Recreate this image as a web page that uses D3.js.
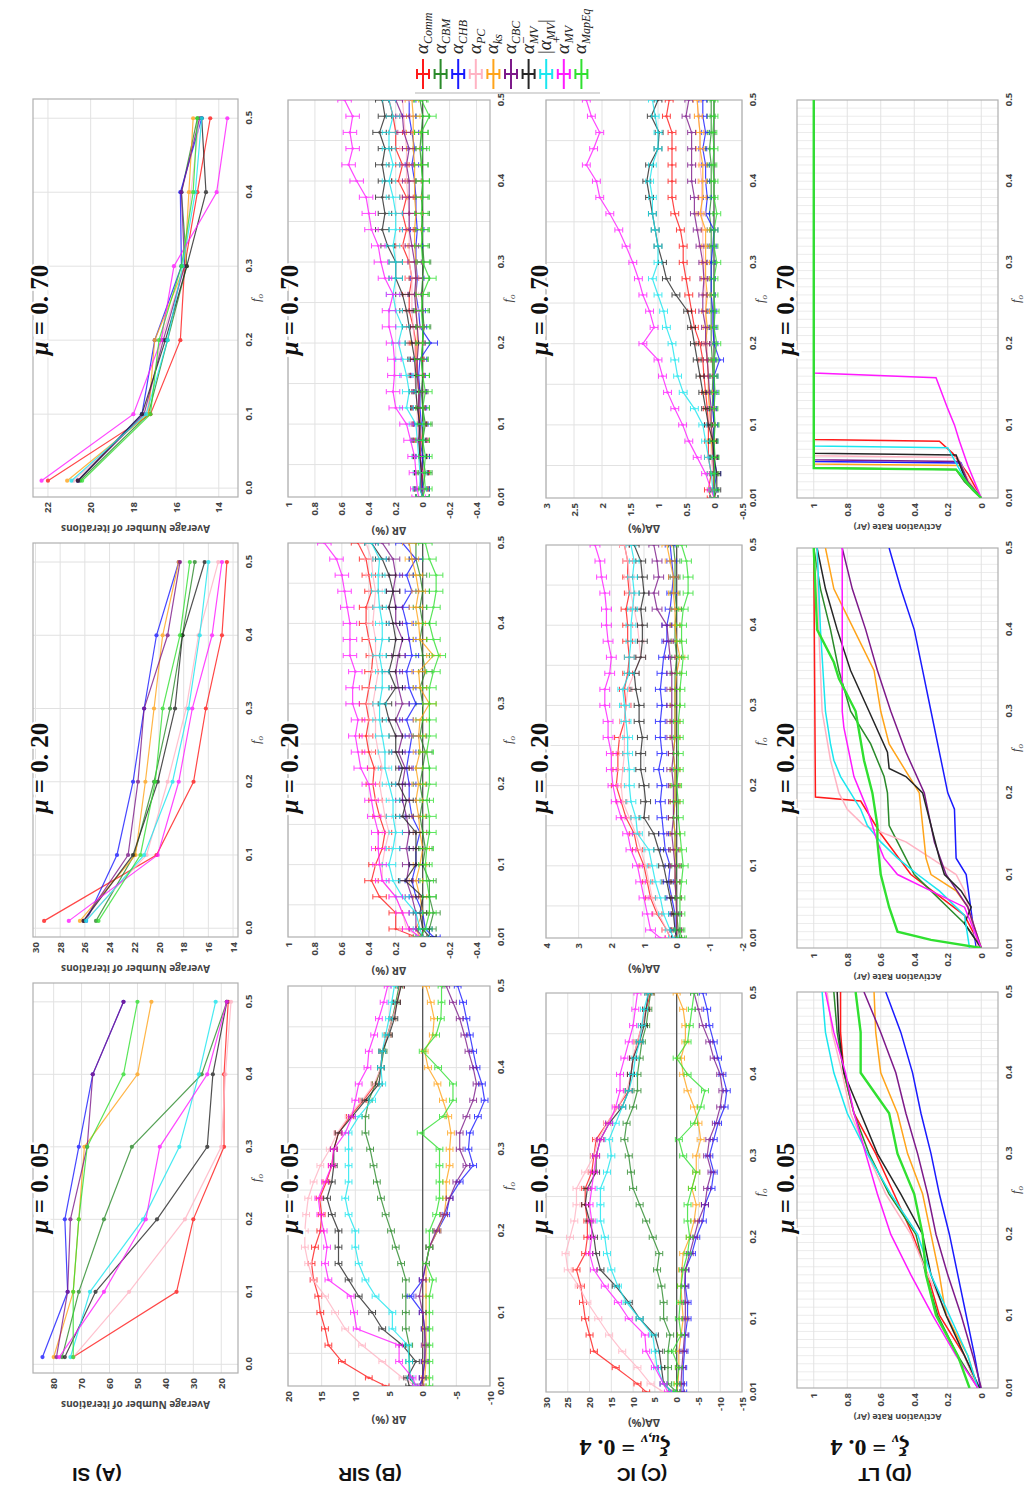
<!DOCTYPE html>
<html lang="en">
<head>
<meta charset="utf-8">
<title>Community-aware centrality: SI, SIR, IC and LT</title>
<script src="https://cdn.jsdelivr.net/npm/d3@7"></script>
<style>
  body { margin: 0; background: #fff; }
</style>
</head>
<body>
<script>

// ---------- series ----------
var seriesKeys = ["Comm", "CBM", "CHB", "PC", "ks", "CBC", "MVbar", "MVabs", "MVplus", "MapEq"];
var seriesColors = ["#ff1a1a", "#2a8a2a", "#1a1aff", "#ffb3c3", "#ffa41a", "#7d1a8a", "#262626", "#1ae6ef", "#ff1aff", "#30e030"];

var muLabels = ["0.05", "0.20", "0.70"];

// fraction of top nodes f_o
var fA = [0.01, 0.1, 0.2, 0.3, 0.4, 0.5];
var fB = [0.01, 0.02, 0.04, 0.06, 0.08, 0.10, 0.12, 0.14, 0.16, 0.18, 0.20, 0.22, 0.24,
          0.26, 0.28, 0.30, 0.32, 0.34, 0.36, 0.38, 0.40, 0.42, 0.44, 0.46, 0.48, 0.50];
var fD = [0.01, 0.05, 0.1, 0.15, 0.2, 0.25, 0.3, 0.35, 0.4, 0.45, 0.5];

// (A) SI : average number of iterations
var siMu005 = [
  [73, 36, 30, 19, 19, 17.5],
  [77, 71, 62, 52, 27, 18],
  [84, 75, 76, 71, 66, 55],
  [73, 53, 33, 20, 18.5, 16.5],
  [80, 73, 71, 69, 50, 45],
  [79, 75, 74, 68, 66, 55],
  [76, 65, 43, 25, 23, 18],
  [74, 67, 48, 35, 28, 22],
  [78, 62, 47, 42, 25, 18],
  [73, 73, 71, 68, 55, 50]
];
var siMu020 = [
  [29.3, 20.2, 17.2, 16.2, 14.9, 14.5],
  [25.1, 22.0, 20.4, 19.1, 18.1, 17.1],
  [25.9, 23.4, 22.1, 21.2, 20.2, 18.4],
  [26.0, 21.0, 19.3, 17.8, 16.8, 15.2],
  [26.4, 21.9, 21.1, 20.4, 19.7, 18.4],
  [26.1, 22.5, 21.7, 21.2, 19.3, 18.3],
  [26.1, 22.1, 20.1, 18.7, 18.1, 16.3],
  [25.9, 21.2, 18.9, 17.6, 16.7, 16.0],
  [27.3, 20.1, 18.4, 17.3, 15.7, 14.9],
  [24.9, 21.5, 20.3, 19.7, 18.3, 17.5]
];
var siMu070 = [
  [22.0, 17.2, 15.8, 15.6, 15.0, 14.4],
  [20.5, 17.3, 16.4, 15.5, 15.75, 15.0],
  [20.6, 17.6, 17.0, 15.75, 15.8, 14.8],
  [20.8, 17.4, 16.7, 15.6, 15.3, 14.9],
  [21.1, 17.3, 17.0, 15.6, 15.4, 15.2],
  [20.6, 17.5, 16.6, 15.6, 15.75, 14.9],
  [20.6, 17.6, 16.5, 15.5, 14.6, 14.8],
  [20.9, 17.4, 16.4, 15.7, 15.1, 14.8],
  [22.3, 18.0, 16.7, 16.1, 14.1, 13.6],
  [20.4, 17.2, 16.8, 15.75, 15.2, 15.0]
];

// (B) SIR : delta R (%)
var sirMu005 = [
  [5.5, 8, 12, 14, 14.5, 15.2, 15.5, 16.2, 16.5, 16, 15.2, 15, 15.3, 14.3, 13.5, 13.2, 12.5, 10.8, 8.8, 7, 6.2, 6, 5.2, 4.5, 3.8, 3.3],
  [1, 2, 2, 2, 2.5, 2.5, 2.5, 2.5, 3.2, 4, 4.7, 5.5, 6.2, 6.8, 7.3, 7.8, 8.5, 8.5, 8, 7, 6.2, 5.8, 5.2, 4.5, 4, 3.5],
  [0.5, 0, -0.3, -0.5, -0.3, 0, 1.8, 0, -0.5, -1, -2.2, -3.5, -4, -5.5, -7.5, -6.8, -7, -8.2, -9.2, -8.8, -8, -7.5, -7, -6.5, -6, -5.2],
  [1, 3, 6, 9, 11.5, 13, 14.5, 16.3, 17, 17.5, 17.5, 17.3, 17, 16.2, 15.2, 13.8, 12.7, 11, 9, 7.2, 6.2, 6, 5.2, 4.5, 3.8, 3.3],
  [0, -0.3, -0.5, -0.5, -0.5, -0.5, -0.5, -0.5, -0.5, -1, -2.2, -3.2, -3.5, -3.5, -4, -4, -4.2, -3.8, -3, -2.2, -0.8, -0.3, -1.5, -1.7, -1.2, -0.5],
  [0.3, 0, -0.3, -0.3, -0.3, 0, 0.5, 0, -0.5, -1, -2, -3.2, -4, -5, -6.5, -5.5, -5.5, -6.5, -7.5, -8, -7.5, -6.8, -6.2, -5.5, -4.5, -3.5],
  [2, 2.3, 1, 3, 6, 7.5, 9.5, 11, 12.5, 12.5, 12.5, 13.5, 14.2, 13.5, 13.2, 13.2, 12.5, 10.5, 8.5, 6.5, 6.2, 6, 5, 4.2, 3.8, 3.2],
  [1, 1.8, 2, 2.2, 4.5, 4.5, 7, 8.5, 9.5, 10, 10, 11, 11.5, 11, 11, 11, 11, 9.5, 7.5, 6, 6.2, 6, 5.5, 5, 4.6, 4.2],
  [1, 1.5, 3.5, 3.5, 9.8, 10.2, 10.7, 14, 14.5, 14.2, 14.7, 15.2, 15.5, 14.5, 13.5, 13.2, 11.5, 10.5, 10, 9.5, 8.2, 8, 7.2, 6.5, 5.8, 5.2],
  [-1, -1, -1, -1, -1, -1, -1, -1.5, -0.5, -1, -1, -2, -2.5, -2.5, -2.5, -2.5, 0.3, -3, -4.5, -4.5, -2.3, 0, -2, -2.7, -2.8, -2.8]
];
var sirMu020 = [
  [0.05, 0.2, 0.2, 0.32, 0.38, 0.35, 0.3, 0.28, 0.32, 0.35, 0.37, 0.36, 0.4, 0.42, 0.4, 0.42, 0.4, 0.38, 0.37, 0.4, 0.42, 0.42, 0.38, 0.4, 0.42, 0.48],
  [-0.05, -0.05, -0.08, -0.05, -0.05, 0, -0.02, 0, 0.02, 0, 0.02, 0, -0.02, 0.02, 0, 0, 0.02, -0.02, 0, 0.02, 0, 0.02, 0, 0.02, 0.05, 0.05],
  [-0.08, -0.02, 0, 0.05, 0.08, 0.05, 0.05, 0.02, 0.08, 0.1, 0.1, 0.12, 0.1, 0.08, 0.12, 0.05, 0.1, 0.12, 0.08, 0.1, 0.12, 0.15, 0.08, 0.12, 0.05, 0.15],
  [0.02, 0.12, 0.15, 0.2, 0.3, 0.3, 0.28, 0.25, 0.28, 0.3, 0.32, 0.3, 0.33, 0.35, 0.35, 0.37, 0.35, 0.33, 0.35, 0.35, 0.37, 0.36, 0.35, 0.37, 0.38, 0.42],
  [0.02, 0.05, 0, 0.02, 0.05, 0.02, 0, 0.02, 0.03, 0.05, 0.03, 0.05, 0.02, 0.03, 0.02, -0.05, 0.02, 0.03, -0.08, 0.02, 0.03, 0.05, 0.03, 0.05, 0.08, 0.1],
  [0, 0.05, 0.05, 0.08, 0.12, 0.1, 0.12, 0.1, 0.12, 0.15, 0.15, 0.13, 0.18, 0.15, 0.2, 0.15, 0.18, 0.2, 0.18, 0.15, 0.2, 0.2, 0.22, 0.2, 0.22, 0.3],
  [-0.05, 0, 0.02, 0, 0.13, 0.05, 0.05, 0.05, 0.15, 0.12, 0.18, 0.15, 0.2, 0.2, 0.25, 0.28, 0.2, 0.25, 0.22, 0.2, 0.22, 0.25, 0.22, 0.25, 0.3, 0.38],
  [0, 0.02, 0.05, 0.15, 0.22, 0.25, 0.22, 0.2, 0.22, 0.22, 0.25, 0.28, 0.28, 0.3, 0.32, 0.32, 0.3, 0.3, 0.32, 0.3, 0.3, 0.32, 0.33, 0.33, 0.32, 0.38],
  [0.02, 0.1, 0.15, 0.2, 0.3, 0.32, 0.33, 0.33, 0.36, 0.38, 0.4, 0.46, 0.48, 0.5, 0.48, 0.52, 0.52, 0.5, 0.54, 0.54, 0.54, 0.56, 0.58, 0.6, 0.64, 0.73],
  [0.02, -0.02, -0.05, -0.05, -0.03, -0.02, -0.03, -0.05, -0.05, -0.03, -0.05, -0.05, -0.03, -0.05, -0.05, -0.05, -0.05, -0.08, -0.12, -0.08, -0.05, -0.08, -0.1, -0.1, -0.05, -0.02]
];
var sirMu070 = [
  [0, 0.01, 0, 0.02, 0.01, 0.02, 0.03, 0.02, 0.04, 0.05, 0.05, 0.07, 0.1, 0.1, 0.08, 0.1, 0.15, 0.12, 0.15, 0.12, 0.18, 0.15, 0.2, 0.2, 0.22, 0.25],
  [0, 0, -0.02, 0, 0, -0.02, 0, 0.01, 0, 0.01, 0, -0.01, 0, 0.01, 0, -0.01, 0, 0.01, 0, 0.01, 0, 0.01, 0.02, 0.01, 0, 0.02],
  [0, 0, 0.01, 0, 0.02, 0.01, 0.02, 0.02, 0.03, 0.02, -0.06, 0.02, 0.03, 0.05, 0.04, 0.05, 0.05, 0.04, 0.05, 0.05, 0.06, 0.08, 0.06, 0.08, 0.1, 0.1],
  [0, 0.01, 0.02, 0.02, 0.03, 0.04, 0.04, 0.05, 0.06, 0.06, 0.06, 0.07, 0.08, 0.08, 0.08, 0.1, 0.1, 0.1, 0.1, 0.11, 0.12, 0.12, 0.12, 0.13, 0.14, 0.15],
  [0, 0.01, 0.01, 0.02, 0.02, 0.02, 0.03, 0.03, 0.04, 0.04, 0.04, 0.04, 0.05, 0.05, 0.05, 0.05, 0.06, 0.06, 0.05, 0.06, 0.06, 0.06, 0.07, 0.07, 0.07, 0.08],
  [0, 0.01, 0.01, 0.02, 0.02, 0.03, 0.03, 0.03, 0.04, 0.04, 0.03, 0.04, 0.05, 0.06, 0.05, 0.06, 0.08, 0.1, 0.1, 0.1, 0.1, 0.12, 0.1, 0.14, 0.15, 0.2],
  [0, 0.02, 0.01, 0.02, 0.03, 0.02, 0.04, 0.05, 0.05, 0.06, 0.08, 0.1, 0.12, 0.15, 0.2, 0.2, 0.26, 0.3, 0.28, 0.3, 0.28, 0.3, 0.28, 0.32, 0.28, 0.3],
  [0, 0.02, 0.02, 0.03, 0.04, 0.05, 0.12, 0.1, 0.12, 0.15, 0.18, 0.15, 0.2, 0.22, 0.2, 0.2, 0.22, 0.2, 0.2, 0.22, 0.25, 0.22, 0.25, 0.25, 0.22, 0.25],
  [0.03, 0.04, 0.05, 0.06, 0.09, 0.12, 0.2, 0.22, 0.21, 0.21, 0.22, 0.25, 0.25, 0.22, 0.28, 0.31, 0.33, 0.38, 0.4, 0.42, 0.49, 0.55, 0.52, 0.54, 0.52, 0.58],
  [0, -0.02, -0.01, -0.02, 0, -0.01, 0, -0.02, 0, 0.01, 0, 0, 0.01, 0, -0.05, 0, 0.01, 0, 0.01, 0, 0, 0.01, 0, 0.01, -0.05, 0.01]
];
var sirErr = [0.5, 0.05, 0.05];

// (C) IC : delta A (%)
var icMu005 = [
  [7, 9, 14, 19, 20, 21, 21.5, 22, 23, 21, 20.5, 20.5, 21, 21, 19.5, 19, 18.5, 16, 13.5, 11, 10.5, 10, 9, 8, 7, 6],
  [0, 2, 2, 2, 1.5, 3, 3, 3.5, 4.5, 4, 5.5, 7, 8.5, 10, 10.5, 11, 12, 11.5, 10, 9, 9, 8.5, 8, 7, 6.5, 6],
  [-1.5, -1.5, -1.5, -1.8, -2, -2.5, -2.5, -2, -2, -3.5, -4.5, -6, -6.5, -8, -8.5, -7.5, -8.5, -9.5, -11, -11.5, -10.5, -9.5, -8.5, -7.5, -7, -6],
  [3, 6, 9, 12.5, 15.5, 18, 20.5, 22.5, 25, 25.5, 24.5, 23.5, 23, 23, 21, 19, 18, 16, 13.5, 11.5, 10.5, 10, 9, 8, 7, 6.5],
  [0, -0.3, -0.5, -0.5, -1, -1.5, -1.2, -1, -1.2, -1.5, -3, -4, -4.5, -3.5, -4.5, -4.5, -5.5, -5, -4, -2.5, -1.5, -1, -2, -2, -1.5, 0],
  [-1, -1, -1.2, -1.5, -1.8, -2, -2, -1.8, -2, -3, -4, -5, -6.5, -7, -8, -7, -7.5, -9, -10, -10.5, -10, -8.5, -7.5, -6, -5, -4],
  [1, 3, 3.5, 4, 5, 8.5, 11, 14, 17.5, 18.5, 19, 20, 21, 20.5, 18.5, 18.5, 17.5, 15.5, 12.5, 11, 10.5, 10, 8.5, 7.5, 7, 6.5],
  [1, 3, 4.5, 5, 5.5, 8.5, 11.5, 13.5, 15, 16, 16.5, 17.5, 17.5, 17.5, 16, 15, 15.5, 14, 12.5, 11, 10, 9.5, 8.5, 8, 7.5, 6.5],
  [2, 3, 5, 7, 7.3, 11, 13.5, 16.5, 19, 20, 19.5, 19.5, 20, 19.5, 19, 18.5, 17.5, 15.5, 14, 13, 13, 12, 11, 10, 9.5, 9],
  [0, 0, -0.5, 1, -1, -0.5, -0.8, -1, -1.5, -2.5, -3, -2.5, -2.5, -3.5, -4.5, -1.5, -0.5, -4, -5.5, -6.5, -2.5, 0, -2.5, -3, -3.5, -4]
];
var icMu020 = [
  [0.2, 0.3, 0.6, 0.8, 0.9, 1.0, 1.2, 1.3, 1.55, 1.7, 1.85, 1.8, 1.8, 1.75, 1.6, 1.55, 1.6, 1.5, 1.45, 1.5, 1.5, 1.55, 1.45, 1.5, 1.5, 1.6],
  [-0.1, -0.05, 0, 0, 0.05, 0, 0.05, 0.05, 0.1, 0.05, 0.05, 0.05, 0.1, 0.05, 0.05, 0.05, 0.05, 0.05, 0, 0.05, 0.05, 0, 0.05, 0.05, 0.05, 0.1],
  [0, 0.05, 0.05, 0.15, 0.25, 0.2, 0.35, 0.4, 0.45, 0.5, 0.45, 0.55, 0.45, 0.5, 0.5, 0.45, 0.5, 0.45, 0.4, 0.3, 0.3, 0.2, 0.15, 0.1, 0.15, 0.2],
  [0.2, 0.3, 0.55, 0.75, 0.85, 0.95, 1.1, 1.25, 1.45, 1.65, 1.7, 1.65, 1.6, 1.6, 1.6, 1.55, 1.5, 1.3, 1.1, 1.15, 1.2, 1.3, 1.4, 1.45, 1.5, 1.6],
  [0, 0, 0, 0.02, 0.05, 0.05, 0.05, 0.05, 0.1, 0.05, 0.05, 0.05, 0.1, 0.05, 0.05, 0.05, 0.05, 0, -0.1, 0, 0.05, 0.05, 0.1, 0.1, 0.2, 0.3],
  [0, 0, 0, 0.02, 0.05, 0.05, 0.1, 0.15, 0.1, 0.1, 0.1, 0.15, 0.1, 0.15, 0.15, 0.15, 0.15, 0.15, 0.2, 0.25, 0.3, 0.6, 0.7, 0.55, 0.6, 0.7],
  [0, 0.05, 0.1, 0.2, 0.3, 0.4, 0.55, 0.7, 1.0, 0.95, 1.0, 1.1, 1.1, 1.05, 1.15, 1.15, 1.25, 1.3, 1.1, 1.05, 1.05, 1.1, 1.0, 1.05, 1.1, 1.3],
  [0.1, 0.2, 0.4, 0.5, 0.65, 0.75, 0.85, 1.2, 1.25, 1.4, 1.45, 1.45, 1.5, 1.5, 1.55, 1.6, 1.65, 1.45, 1.45, 1.4, 1.4, 1.35, 1.3, 1.35, 1.3, 1.4],
  [0.5, 0.8, 0.9, 1.0, 1.1, 1.2, 1.4, 1.5, 1.7, 1.85, 1.95, 2.0, 2.0, 2.1, 2.1, 2.2, 2.2, 2.05, 2.0, 2.1, 2.15, 2.15, 2.2, 2.3, 2.35, 2.5],
  [-0.15, -0.1, -0.1, -0.1, -0.15, -0.2, -0.15, -0.1, -0.05, -0.05, 0, -0.05, -0.05, -0.05, -0.05, -0.1, -0.1, -0.15, -0.2, -0.15, -0.15, -0.2, -0.35, -0.35, -0.3, -0.15]
];
var icMu070 = [
  [0.05, 0.1, 0.05, 0.1, 0.1, 0.1, 0.12, 0.15, 0.18, 0.2, 0.25, 0.35, 0.4, 0.45, 0.5, 0.55, 0.55, 0.6, 0.7, 0.75, 0.75, 0.75, 0.75, 0.75, 0.85, 0.8],
  [0, 0, -0.02, 0, 0.02, 0, 0.02, 0.03, 0.02, 0.03, 0.05, 0.05, 0.05, 0.05, 0.05, 0.05, 0.05, 0.05, 0.08, 0.05, 0.05, 0.05, 0.08, 0.05, 0.05, 0.05],
  [0, 0, -0.05, 0, 0, 0, 0.02, 0, 0, -0.1, 0, 0.02, 0.02, 0.05, 0.05, 0.05, 0.02, 0, 0.15, 0.12, 0.15, 0.15, 0.2, 0.15, 0.2, 0.2],
  [0, 0.02, 0.02, 0.05, 0.05, 0.08, 0.08, 0.1, 0.1, 0.12, 0.12, 0.15, 0.15, 0.15, 0.18, 0.18, 0.2, 0.2, 0.22, 0.22, 0.22, 0.25, 0.25, 0.25, 0.28, 0.3],
  [0, 0.02, 0, 0.02, 0.05, 0.05, 0.08, 0.1, 0.1, 0.12, 0.15, 0.12, 0.15, 0.12, 0.15, 0.15, 0.15, 0.15, 0.25, 0.2, 0.2, 0.2, 0.25, 0.25, 0.28, 0.3],
  [0, 0, 0, 0.02, 0.02, 0.05, 0.05, 0.08, 0.1, 0.12, 0.15, 0.15, 0.2, 0.2, 0.18, 0.2, 0.25, 0.3, 0.35, 0.35, 0.4, 0.4, 0.4, 0.4, 0.5, 0.45],
  [0, -0.05, -0.05, 0, 0.02, 0.1, 0.15, 0.2, 0.25, 0.3, 0.35, 0.4, 0.47, 0.68, 0.85, 0.92, 1.0, 1.05, 1.1, 1.15, 1.2, 1.15, 1.0, 0.98, 1.12, 1.0],
  [0, 0.02, 0.05, 0.1, 0.15, 0.2, 0.35, 0.55, 0.65, 0.7, 0.75, 0.85, 0.9, 1.0, 1.1, 1.0, 1.0, 1.05, 1.1, 1.1, 1.15, 1.1, 1.0, 1.0, 1.05, 1.1],
  [0, 0.05, 0.15, 0.3, 0.45, 0.56, 0.7, 0.83, 0.92, 1.0, 1.27, 1.07, 1.15, 1.27, 1.35, 1.45, 1.57, 1.7, 1.86, 2.04, 2.1, 2.28, 2.15, 2.04, 2.19, 2.28],
  [0, -0.02, 0, -0.02, 0, -0.02, 0, -0.02, 0, 0, -0.05, 0, -0.02, 0, 0, -0.05, 0, 0, -0.05, 0, 0, 0.02, 0, 0.02, 0, 0]
];
var icErr = [0.8, 0.15, 0.07];

// (D) LT : activation rate
var ltMu005 = [
  [0.02, 0.1, 0.25, 0.32, 0.41, 0.52, 0.63, 0.76, 0.82, 0.84, 0.84],
  [0.02, 0.14, 0.26, 0.33, 0.39, 0.55, 0.67, 0.76, 0.82, 0.86, 0.88],
  [0.005, 0.04, 0.09, 0.14, 0.19, 0.25, 0.3, 0.36, 0.41, 0.48, 0.57],
  [0.02, 0.1, 0.2, 0.32, 0.42, 0.57, 0.68, 0.78, 0.83, 0.89, 0.92],
  [0.02, 0.08, 0.21, 0.25, 0.3, 0.35, 0.44, 0.5, 0.6, 0.63, 0.64],
  [0.0, 0.05, 0.12, 0.2, 0.27, 0.32, 0.38, 0.45, 0.51, 0.6, 0.7],
  [0.01, 0.1, 0.21, 0.3, 0.35, 0.48, 0.62, 0.72, 0.82, 0.85, 0.86],
  [0.02, 0.08, 0.19, 0.3, 0.38, 0.54, 0.68, 0.8, 0.88, 0.93, 0.95],
  [0.02, 0.15, 0.29, 0.42, 0.54, 0.62, 0.69, 0.76, 0.81, 0.88, 0.93],
  [0.07, 0.14, 0.27, 0.33, 0.35, 0.4, 0.5, 0.55, 0.72, 0.72, 0.75]
];
var ltMu020 = [
  [[0.01, 0], [0.05, 0.1], [0.1, 0.42], [0.15, 0.6], [0.19, 0.72], [0.195, 0.99], [0.5, 1.0]],
  [[0.01, 0], [0.04, 0.1], [0.06, 0.2], [0.08, 0.3], [0.1, 0.4], [0.14, 0.5], [0.16, 0.55], [0.2, 0.56], [0.22, 0.58], [0.26, 0.66], [0.3, 0.78], [0.35, 0.85], [0.4, 0.9], [0.45, 0.96], [0.5, 1.0]],
  [[0.01, 0.03], [0.07, 0.07], [0.1, 0.09], [0.12, 0.15], [0.18, 0.16], [0.2, 0.2], [0.25, 0.25], [0.3, 0.3], [0.35, 0.35], [0.4, 0.4], [0.45, 0.48], [0.5, 0.55]],
  [[0.01, 0.02], [0.08, 0.1], [0.1, 0.15], [0.12, 0.3], [0.14, 0.45], [0.16, 0.7], [0.18, 0.8], [0.2, 0.85], [0.24, 0.9], [0.3, 0.95], [0.4, 0.97], [0.5, 0.98]],
  [[0.01, 0], [0.06, 0.08], [0.08, 0.15], [0.1, 0.3], [0.12, 0.33], [0.16, 0.35], [0.2, 0.37], [0.22, 0.43], [0.26, 0.55], [0.3, 0.6], [0.35, 0.64], [0.4, 0.76], [0.45, 0.88], [0.5, 0.93]],
  [[0.01, 0], [0.06, 0.08], [0.1, 0.21], [0.14, 0.28], [0.2, 0.34], [0.25, 0.45], [0.3, 0.54], [0.35, 0.62], [0.4, 0.69], [0.45, 0.77], [0.5, 0.83]],
  [[0.01, 0], [0.04, 0.1], [0.06, 0.06], [0.08, 0.12], [0.1, 0.22], [0.12, 0.25], [0.16, 0.3], [0.2, 0.35], [0.22, 0.45], [0.23, 0.55], [0.25, 0.56], [0.3, 0.67], [0.35, 0.78], [0.4, 0.86], [0.45, 0.93], [0.5, 0.98]],
  [[0.01, 0.07], [0.05, 0.1], [0.08, 0.25], [0.1, 0.38], [0.12, 0.5], [0.14, 0.6], [0.16, 0.68], [0.18, 0.72], [0.2, 0.78], [0.22, 0.84], [0.24, 0.88], [0.26, 0.9], [0.3, 0.93], [0.4, 0.96], [0.5, 0.98]],
  [[0.01, 0], [0.06, 0.1], [0.08, 0.3], [0.1, 0.5], [0.12, 0.58], [0.14, 0.62], [0.16, 0.65], [0.18, 0.68], [0.2, 0.72], [0.22, 0.76], [0.24, 0.78], [0.26, 0.8], [0.28, 0.82], [0.3, 0.83], [0.5, 0.83]],
  [[0.01, 0], [0.02, 0.3], [0.03, 0.5], [0.06, 0.55], [0.1, 0.6], [0.14, 0.62], [0.16, 0.62], [0.2, 0.65], [0.24, 0.7], [0.3, 0.75], [0.34, 0.85], [0.36, 0.88], [0.4, 0.98], [0.5, 1.0]]
];
var ltMu070 = [
  [[0.01, 0], [0.04, 0.08], [0.065, 0.17], [0.08, 0.25], [0.082, 1], [0.5, 1]],
  [[0.01, 0], [0.03, 0.1], [0.045, 0.15], [0.047, 1], [0.5, 1]],
  [[0.01, 0], [0.03, 0.08], [0.053, 0.12], [0.055, 1], [0.5, 1]],
  [[0.01, 0], [0.03, 0.07], [0.06, 0.14], [0.062, 1], [0.5, 1]],
  [[0.01, 0], [0.03, 0.08], [0.05, 0.12], [0.052, 1], [0.5, 1]],
  [[0.01, 0], [0.03, 0.08], [0.055, 0.13], [0.057, 1], [0.5, 1]],
  [[0.01, 0], [0.03, 0.09], [0.063, 0.15], [0.065, 1], [0.5, 1]],
  [[0.01, 0], [0.03, 0.09], [0.072, 0.2], [0.074, 1], [0.5, 1]],
  [[0.01, 0], [0.05, 0.08], [0.08, 0.13], [0.1, 0.16], [0.12, 0.2], [0.158, 0.27], [0.164, 1], [0.5, 1]],
  [[0.01, 0], [0.02, 0.05], [0.045, 0.15], [0.047, 1], [0.5, 1]]
];

// ---------- tick labels ----------
var xTicksA = [0, 0.1, 0.2, 0.3, 0.4, 0.5];
var xTicksB = [0.01, 0.1, 0.2, 0.3, 0.4, 0.5];
var yTicksSI = [[20, 30, 40, 50, 60, 70, 80], [14, 16, 18, 20, 22, 24, 26, 28, 30], [14, 16, 18, 20, 22]];
var yTicksSIR = [[-10, -5, 0, 5, 10, 15, 20], [-0.4, -0.2, 0, 0.2, 0.4, 0.6, 0.8, 1], [-0.4, -0.2, 0, 0.2, 0.4, 0.6, 0.8, 1]];
var yTicksIC = [[-15, -10, -5, 0, 5, 10, 15, 20, 25, 30], [-2, -1, 0, 1, 2, 3, 4], [-0.5, 0, 0.5, 1, 1.5, 2, 2.5, 3]];
var yTicksLT = [0, 0.2, 0.4, 0.6, 0.8, 1];

// ---------- canvas: the figure is drawn landscape, then turned a quarter left ----------
var svg = d3.select("body").append("svg")
    .attr("width", 1024).attr("height", 1506);
svg.append("rect").attr("width", 1024).attr("height", 1506).attr("fill", "#fff");
var root = svg.append("g").attr("transform", "translate(0,1506) rotate(-90)");

var tickFont = "'Open Sans', sans-serif";
var clipN = 0;
var numFmt = function(d) { return String(+d.toFixed(2)); };

function drawPanel(p) {
  var g = root.append("g");
  var x = d3.scaleLinear().domain(p.xDom).range([p.x0, p.x1]);
  var y = d3.scaleLinear().domain(p.yDom).range([p.y1, p.y0]);
  var cid = "clip" + (clipN++);
  g.append("clipPath").attr("id", cid).append("rect")
    .attr("x", p.x0).attr("y", p.y0).attr("width", p.x1 - p.x0).attr("height", p.y1 - p.y0);

  // grid
  g.append("g").selectAll("line").data(p.xGrid).join("line")
    .attr("x1", function(d) { return x(d); }).attr("x2", function(d) { return x(d); })
    .attr("y1", p.y0).attr("y2", p.y1)
    .attr("stroke", p.xGridColor || "#e2e2e2").attr("stroke-width", 1);
  g.append("g").selectAll("line").data(p.yTicks).join("line")
    .attr("x1", p.x0).attr("x2", p.x1)
    .attr("y1", function(d) { return y(d); }).attr("y2", function(d) { return y(d); })
    .attr("stroke", "#e2e2e2").attr("stroke-width", 1);

  if (p.zero) {
    g.append("line").attr("x1", p.x0).attr("x2", p.x1)
      .attr("y1", y(0)).attr("y2", y(0))
      .attr("stroke", "#555").attr("stroke-width", 1.3);
  }

  g.append("rect").attr("x", p.x0).attr("y", p.y0)
    .attr("width", p.x1 - p.x0).attr("height", p.y1 - p.y0)
    .attr("fill", "none").attr("stroke", "#b0b0b0").attr("stroke-width", 1.2);

  // axes
  var ax = g.append("g").attr("transform", "translate(0," + p.y1 + ")")
    .call(d3.axisBottom(x).tickValues(p.xTicks).tickFormat(p.xFmt).tickSize(0).tickPadding(7));
  var ay = g.append("g").attr("transform", "translate(" + p.x0 + ",0)")
    .call(d3.axisLeft(y).tickValues(p.yTicks).tickFormat(numFmt).tickSize(0).tickPadding(5));
  [ax, ay].forEach(function(a) {
    a.select(".domain").remove();
    a.attr("font-family", tickFont);
    a.selectAll("text").attr("font-size", 9.5).attr("font-weight", 700).attr("fill", "#444");
  });

  // axis titles
  g.append("text")
    .attr("transform", "translate(" + (p.x0 - p.yTitleOff) + "," + ((p.y0 + p.y1) / 2) + ") rotate(-90)")
    .attr("text-anchor", "middle").attr("font-family", tickFont)
    .attr("font-size", p.yTitleSize).attr("font-weight", 700).attr("fill", "#444")
    .text(p.yTitle);
  var fo = g.append("text")
    .attr("x", (p.x0 + p.x1) / 2).attr("y", p.y1 + 22)
    .attr("text-anchor", "middle").attr("font-family", "'Liberation Serif', serif")
    .attr("font-size", 13).attr("font-style", "italic").attr("fill", "#444");
  fo.append("tspan").text("f");
  fo.append("tspan").attr("font-size", 9).attr("dy", 3).text("o");

  // series
  var plot = g.append("g").attr("clip-path", "url(#" + cid + ")");
  p.series.forEach(function(vals, k) {
    var pts = p.pairs ? vals : vals.map(function(v, i) { return [p.xs[i], v]; });
    var col = seriesColors[k];
    var lastLine = p.kind === "line" && k === p.series.length - 1;
    var sg = plot.append("g").attr("opacity", p.kind === "line" ? 1 : 0.8);
    sg.append("path").datum(pts)
      .attr("d", d3.line().x(function(d) { return x(d[0]); }).y(function(d) { return y(d[1]); }))
      .attr("fill", "none").attr("stroke", col).attr("stroke-width", lastLine ? 2.4 : p.lineW);
    if (p.kind === "dots") {
      sg.selectAll("circle").data(pts).join("circle")
        .attr("cx", function(d) { return x(d[0]); }).attr("cy", function(d) { return y(d[1]); })
        .attr("r", 2.1).attr("fill", col);
    }
    if (p.kind === "err") {
      var e = p.err, c = 2.6;
      sg.selectAll("path.eb").data(pts).join("path").attr("class", "eb")
        .attr("d", function(d) {
          var px = x(d[0]), hi = y(d[1] + e), lo = y(d[1] - e);
          return "M" + (px - c) + "," + hi + "H" + (px + c) +
                 "M" + px + "," + hi + "V" + lo +
                 "M" + (px - c) + "," + lo + "H" + (px + c);
        })
        .attr("fill", "none").attr("stroke", col).attr("stroke-width", 1);
      sg.selectAll("circle").data(pts).join("circle")
        .attr("cx", function(d) { return x(d[0]); }).attr("cy", function(d) { return y(d[1]); })
        .attr("r", 1.3).attr("fill", col);
    }
  });

  // column title, sitting on the top edge of the frame
  var tt = root.append("text")
    .attr("x", p.titleX).attr("y", p.titleY)
    .attr("text-anchor", "middle").attr("font-family", "'Liberation Serif', serif")
    .attr("font-size", 25).attr("font-weight", 700).attr("fill", "#111")
    .attr("stroke", "#fff").attr("stroke-width", 5).attr("paint-order", "stroke");
  tt.append("tspan").attr("font-style", "italic").text("\u03bc");
  tt.append("tspan").text(" = " + p.mu.replace(".", ". "));
}

var colFrames = {
  A: [[133, 523], [569, 963], [1009, 1407]],
  B: [[120, 520], [569, 963], [1009, 1406]],
  C: [[114, 513], [568, 961], [1008, 1406]],
  D: [[118, 514], [558, 958], [1008, 1406]]
};
var rowFrames = { A: [33, 238], B: [288, 490], C: [546, 742], D: [797, 998] };
var titleRowY = { A: 48, B: 298, C: 548, D: 794 };
var titleColX = [318, 738, 1196];

var siData = [siMu005, siMu020, siMu070];
var siDom = [[14, 87.4], [13.6, 30.2], [13.1, 22.7]];
var sirData = [sirMu005, sirMu020, sirMu070];
var sirDom = [[-10, 20], [-0.5, 1], [-0.5, 1]];
var icData = [icMu005, icMu020, icMu070];
var icDom = [[-15, 30], [-2, 4], [-0.5, 3]];
var ltData = [ltMu005, ltMu020, ltMu070];

[0, 1, 2].forEach(function(c) {
  var base = function(row) {
    return { x0: colFrames[row][c][0], x1: colFrames[row][c][1],
             y0: rowFrames[row][0], y1: rowFrames[row][1],
             titleX: titleColX[c], titleY: titleRowY[row], mu: muLabels[c] };
  };
  drawPanel(Object.assign(base("A"), {
    xDom: [-0.012, 0.526], yDom: siDom[c], xs: fA, series: siData[c], kind: "dots", lineW: 1.2,
    xTicks: xTicksA, xFmt: d3.format(".1f"), xGrid: xTicksA, yTicks: yTicksSI[c],
    yTitle: "Average Number of iterations", yTitleSize: 10, yTitleOff: 28
  }));
  drawPanel(Object.assign(base("B"), {
    xDom: [0.01, 0.5], yDom: sirDom[c], xs: fB, series: sirData[c], kind: "err", err: sirErr[c], lineW: 1.2,
    xTicks: xTicksB, xFmt: numFmt, xGrid: d3.range(0.05, 0.5, 0.05), yTicks: yTicksSIR[c], zero: true,
    yTitle: "\u0394R (%)", yTitleSize: 11, yTitleOff: 30
  }));
  drawPanel(Object.assign(base("C"), {
    xDom: [0.01, 0.5], yDom: icDom[c], xs: fB, series: icData[c], kind: "err", err: icErr[c], lineW: 1.2,
    xTicks: xTicksB, xFmt: numFmt, xGrid: d3.range(0.05, 0.5, 0.05), yTicks: yTicksIC[c], zero: true,
    yTitle: "\u0394A(%)", yTitleSize: 11, yTitleOff: 27
  }));
  drawPanel(Object.assign(base("D"), {
    xDom: [0.01, 0.5], yDom: [-0.1, 1.1], xs: fD, series: ltData[c], pairs: c > 0, kind: "line", lineW: 1.5,
    xTicks: xTicksB, xFmt: numFmt, xGrid: d3.range(0.02, 0.5, 0.01), xGridColor: "#ececec", yTicks: yTicksLT,
    yTitle: "Activation Rate (Ar)", yTitleSize: 9, yTitleOff: 26
  }));
});

// ---------- row labels ----------
var rowLabels = [
  { t: "(A) SI", X: 38, Y: 97 },
  { t: "(B) SIR", X: 38, Y: 370 },
  { t: "(C) IC", X: 38, Y: 642 },
  { t: "(D) LT", X: 38, Y: 885 }
];
rowLabels.forEach(function(r) {
  root.append("text")
    .attr("transform", "translate(" + r.X + "," + r.Y + ") rotate(-90)")
    .attr("text-anchor", "middle").attr("font-family", "'Liberation Sans', sans-serif")
    .attr("font-size", 19).attr("font-weight", 700).attr("fill", "#111")
    .text(r.t);
});
var xiLabels = [
  { sub: "u,v", Y: 625 },
  { sub: "v", Y: 870 }
];
xiLabels.forEach(function(r) {
  var t = root.append("text")
    .attr("transform", "translate(66," + r.Y + ") rotate(-90)")
    .attr("text-anchor", "middle").attr("font-family", "'Liberation Serif', serif")
    .attr("font-size", 24).attr("font-weight", 700).attr("fill", "#111");
  t.append("tspan").attr("font-style", "italic").text("\u03be");
  t.append("tspan").attr("font-style", "italic").attr("font-size", 15).attr("dy", 5).text(r.sub);
  t.append("tspan").attr("dy", -5).text(" = 0. 4");
});

// ---------- legend ----------
var lg = root.append("g");
lg.append("line").attr("x1", 1413).attr("x2", 1413).attr("y1", 415).attr("y2", 600)
  .attr("stroke", "#ccc").attr("stroke-width", 1.5);
seriesKeys.forEach(function(key, i) {
  var yy = 423 + i * 17.6, col = seriesColors[i];
  var e = lg.append("g");
  e.append("line").attr("x1", 1417).attr("x2", 1447).attr("y1", yy).attr("y2", yy)
    .attr("stroke", col).attr("stroke-width", 2);
  e.append("path")
    .attr("d", "M1427," + (yy - 6) + "H1437M1432," + (yy - 6) + "V" + (yy + 6) + "M1427," + (yy + 6) + "H1437")
    .attr("fill", "none").attr("stroke", col).attr("stroke-width", 2);
  var t = lg.append("text").attr("x", 1452).attr("y", yy + 5)
    .attr("font-family", "'Liberation Serif', serif").attr("font-style", "italic")
    .attr("font-size", 19).attr("fill", "#222");
  if (key === "MVabs") t.append("tspan").attr("font-style", "normal").text("|");
  t.append("tspan").text("\u03b1");
  if (key === "MVbar" || key === "MVplus") {
    t.append("tspan").attr("font-size", 12).attr("dy", -8).attr("dx", 1).attr("font-style", "normal")
      .text(key === "MVbar" ? "\u2013" : "+");
    t.append("tspan").attr("font-size", 12).attr("dy", 12).attr("dx", -7).text("MV");
  } else {
    t.append("tspan").attr("font-size", 12).attr("dy", 4)
      .text(key === "MVabs" ? "MV" : key);
  }
  if (key === "MVabs") t.append("tspan").attr("font-style", "normal").attr("dy", -4).text("|");
});

</script>
